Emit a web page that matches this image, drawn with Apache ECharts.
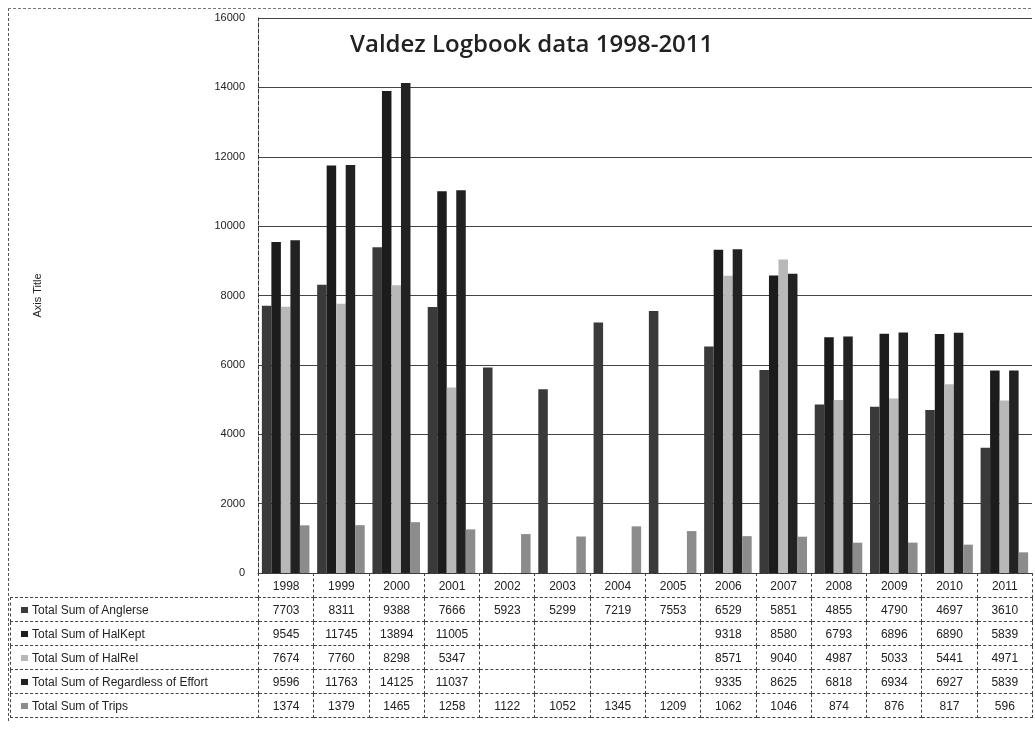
<!DOCTYPE html>
<html>
<head>
<meta charset="utf-8">
<script src="https://cdn.jsdelivr.net/npm/echarts@6/dist/echarts.min.js"></script>
<style>
    body { margin: 0; background: #fff; }
    #chart { position: absolute; left: 0; top: 0; width: 1035px; height: 730px; }
    #frame { position: absolute; left: 8px; top: 8px; width: 1022px; height: 712px; border-left: 1px dashed #555; border-top: 1px dashed #777; }
    #tbl { position: absolute; left: 10px; top: 573px; border-collapse: collapse; font-family: "Liberation Sans", sans-serif; font-size: 12px; color: #222; table-layout: fixed; }
    #tbl td { border: 1px dashed #444; height: 23px; padding: 0; text-align: center; }
    #tbl td.lab { text-align: left; padding-left: 10px; }
    #tbl td.blank { border: none; }
    .sw { display: inline-block; width: 7px; height: 6px; margin-right: 4px; vertical-align: 1px; }
</style>
</head>
<body>
<div id="frame"></div>
<div id="chart"></div>
<table id="tbl"></table>
<script>
const years = ['1998', '1999', '2000', '2001', '2002', '2003', '2004', '2005', '2006', '2007', '2008', '2009', '2010', '2011'];
const anglers = [7703, 8311, 9388, 7666, 5923, 5299, 7219, 7553, 6529, 5851, 4855, 4790, 4697, 3610];
const halKept = [9545, 11745, 13894, 11005, null, null, null, null, 9318, 8580, 6793, 6896, 6890, 5839];
const halRel = [7674, 7760, 8298, 5347, null, null, null, null, 8571, 9040, 4987, 5033, 5441, 4971];
const regardless = [9596, 11763, 14125, 11037, null, null, null, null, 9335, 8625, 6818, 6934, 6927, 5839];
const trips = [1374, 1379, 1465, 1258, 1122, 1052, 1345, 1209, 1062, 1046, 874, 876, 817, 596];
const yTicks = [0, 2000, 4000, 6000, 8000, 10000, 12000, 14000, 16000];

const seriesDefs = [
    {name: 'Total Sum of Anglerse', data: anglers, color: '#3a3a3a'},
    {name: 'Total Sum of HalKept', data: halKept, color: '#1c1c1c'},
    {name: 'Total Sum of HalRel', data: halRel, color: '#b8b8b8'},
    {name: 'Total Sum of Regardless of Effort', data: regardless, color: '#222222'},
    {name: 'Total Sum of Trips', data: trips, color: '#8c8c8c'}
];

const myChart = echarts.init(document.getElementById('chart'));
let option = {
    animation: false,
    title: {
        text: 'Valdez Logbook data 1998-2011',
        left: 345,
        top: 28,
        textStyle: {fontFamily: 'Open Sans', fontSize: 24, fontWeight: 600, color: '#222'}
    },
    grid: {left: 258, right: 3, top: 18, bottom: 157},
    xAxis: {
        type: 'category',
        data: years,
        axisLabel: {show: false},
        axisTick: {show: false},
        axisLine: {lineStyle: {color: '#333'}}
    },
    yAxis: {
        type: 'value',
        min: yTicks[0],
        max: yTicks[yTicks.length - 1],
        interval: 2000,
        name: 'Axis Title',
        nameLocation: 'middle',
        nameGap: 215,
        nameTextStyle: {fontFamily: 'Liberation Sans', fontSize: 11, color: '#222'},
        axisLabel: {fontFamily: 'Liberation Sans', fontSize: 11, color: '#222', margin: 13, formatter: (v) => String(v)},
        axisLine: {show: true, lineStyle: {color: '#333', type: 'dashed'}},
        splitLine: {lineStyle: {color: '#444', width: 1.2}}
    },
    series: seriesDefs.map((s) => ({
        name: s.name,
        type: 'bar',
        data: s.data,
        barGap: '0%',
        barCategoryGap: '14%',
        itemStyle: {color: s.color}
    }))
};
myChart.setOption(option);

// data table under the plot
const tbl = document.getElementById('tbl');
const colW = (1032 - 258) / years.length;
let html = '<colgroup><col style="width:248px">';
years.forEach(() => { html += '<col style="width:' + colW + 'px">'; });
html += '</colgroup><tr><td class="blank"></td>';
years.forEach((y) => { html += '<td>' + y + '</td>'; });
html += '</tr>';
seriesDefs.forEach((s) => {
    html += '<tr><td class="lab"><span class="sw" style="background:' + s.color + '"></span>' + s.name + '</td>';
    s.data.forEach((v) => { html += '<td>' + (v === null ? '' : v) + '</td>'; });
    html += '</tr>';
});
tbl.innerHTML = html;
</script>
</body>
</html>
